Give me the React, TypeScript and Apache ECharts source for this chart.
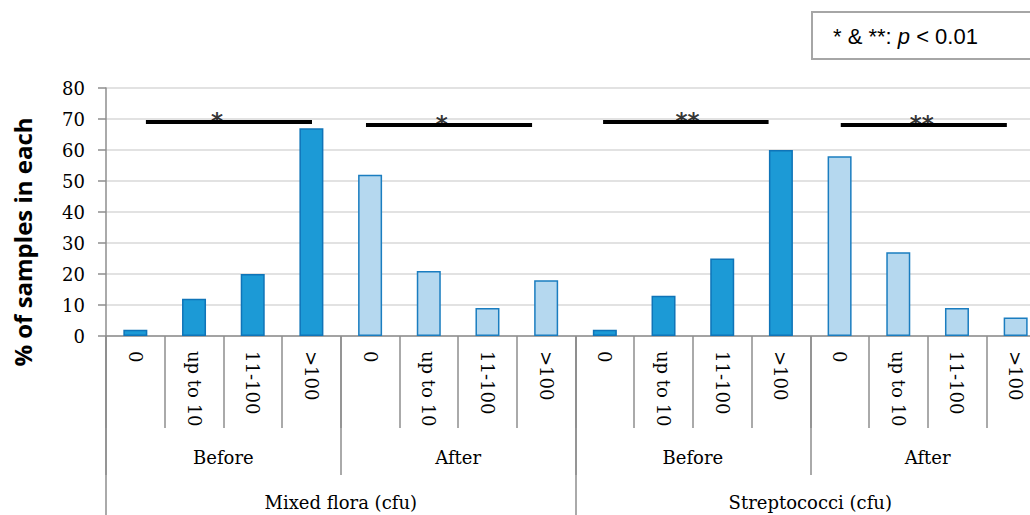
import React, { useEffect, useRef } from "react";
import * as echarts from "echarts";

// ---- data ----
const binLabels = ["0", "up to 10", "11-100", ">100"];
const phaseLabels = ["Before", "After", "Before", "After"];
const organismLabels = ["Mixed flora (cfu)", "Streptococci (cfu)"];

const mixedBefore = [2, 12, 20, 67];
const mixedAfter = [52, 21, 9, 18];
const strepBefore = [2, 13, 25, 60];
const strepAfter = [58, 27, 9, 6];

const yTicks = { min: 0, max: 80, interval: 10 };

// significance brackets (x in category units, 0..16)
const sigText = ["*", "*", "**", "**"];
const sigStart = [0.68, 4.43, 8.47, 12.52];
const sigEnd = [3.51, 7.26, 11.29, 15.35];
const sigLevel = [69, 68.1, 69, 68.1];
const sigTextX = [1.89, 5.72, 9.91, 13.9];

const yTitle = "% of samples in each";
const noteText = ["* & **: ", "p", " < 0.01"];

export default function App() {
  const ref = useRef<HTMLDivElement>(null);

  useEffect(() => {
    if (!ref.current) return;
    const chart = echarts.init(ref.current, undefined, { renderer: "svg" });

    const categories: string[] = [];
    for (let g = 0; g < 4; g++) binLabels.forEach((b) => categories.push(b));
    const empty = binLabels.map(() => null);
    const beforeData = [...mixedBefore, ...empty, ...strepBefore, ...empty];
    const afterData = [...empty, ...mixedAfter, ...empty, ...strepAfter];

    const serif = "DejaVu Serif";
    const axisColor = "#8e8e8e";

    const sigLineSeries = sigText.map((_, i) => ({
      type: "line",
      xAxisIndex: 3,
      yAxisIndex: 0,
      data: [
        [sigStart[i], sigLevel[i]],
        [sigEnd[i], sigLevel[i]],
      ],
      symbol: "none",
      silent: true,
      lineStyle: { color: "#000", width: 4 },
      z: 5,
    }));

    const sigLabelSeries = {
      type: "scatter",
      xAxisIndex: 3,
      yAxisIndex: 0,
      symbolSize: 1,
      silent: true,
      itemStyle: { color: "rgba(0,0,0,0)" },
      data: sigText.map((t, i) => ({ value: [sigTextX[i], sigLevel[i] + 0.3], name: t })),
      label: {
        show: true,
        position: "inside",
        formatter: "{b}",
        fontFamily: "DejaVu Sans",
        fontWeight: "bold",
        fontSize: 23,
        color: "#000",
      },
      z: 6,
    };

    chart.setOption({
      animation: false,
      backgroundColor: "#fff",
      grid: { left: 106, top: 88, width: 939, height: 248, containLabel: false },
      xAxis: [
        {
          type: "category",
          data: categories,
          position: "bottom",
          axisLine: { show: true, lineStyle: { color: axisColor, width: 1.5 } },
          axisTick: { show: true, interval: 0, length: 92, lineStyle: { color: axisColor, width: 1.5 } },
          axisLabel: {
            interval: 0,
            rotate: -90,
            margin: 15,
            fontFamily: serif,
            fontSize: 18,
            color: "#000",
          },
          splitLine: { show: false },
        },
        {
          type: "category",
          data: phaseLabels,
          position: "bottom",
          axisLine: { show: false },
          axisTick: { show: true, interval: 0, length: 139, lineStyle: { color: axisColor, width: 1.5 } },
          axisLabel: { interval: 0, margin: 112, fontFamily: serif, fontSize: 18, color: "#000" },
          splitLine: { show: false },
        },
        {
          type: "category",
          data: organismLabels,
          position: "bottom",
          axisLine: { show: false },
          axisTick: { show: true, interval: 0, length: 190, lineStyle: { color: axisColor, width: 1.5 } },
          axisLabel: { interval: 0, margin: 157, fontFamily: serif, fontSize: 18, color: "#000" },
          splitLine: { show: false },
        },
        {
          type: "value",
          min: 0,
          max: categories.length,
          show: false,
          position: "top",
          splitLine: { show: false },
        },
      ],
      yAxis: {
        type: "value",
        min: yTicks.min,
        max: yTicks.max,
        interval: yTicks.interval,
        axisLine: { show: true, lineStyle: { color: axisColor, width: 1.5 } },
        axisTick: { show: true, length: 8, lineStyle: { color: axisColor, width: 1.5 } },
        axisLabel: { margin: 21, fontFamily: serif, fontSize: 18, color: "#000" },
        splitLine: { show: true, lineStyle: { color: "#d9d9d9", width: 1.5 } },
      },
      series: [
        {
          type: "bar",
          name: "Before",
          xAxisIndex: 0,
          data: beforeData,
          barWidth: 24,
          barGap: "-100%",
          itemStyle: { color: "#1c9ad6", borderColor: "#0f74b8", borderWidth: 1.5 },
        },
        {
          type: "bar",
          name: "After",
          xAxisIndex: 0,
          data: afterData,
          barWidth: 24,
          barGap: "-100%",
          itemStyle: { color: "#b5d8ef", borderColor: "#1a7dc0", borderWidth: 1.5 },
        },
        ...sigLineSeries,
        sigLabelSeries,
      ],
      graphic: [
        {
          type: "text",
          x: 22,
          y: 242,
          rotation: Math.PI / 2,
          style: {
            text: yTitle,
            font: "bold 24px 'Open Sans'",
            fill: "#000",
            align: "center",
            verticalAlign: "middle",
          },
        },
        {
          type: "rect",
          shape: { x: 812, y: 12, width: 240, height: 47 },
          style: { fill: "#fff", stroke: "#a6a6a6", lineWidth: 2 },
        },
        {
          type: "text",
          x: 833,
          y: 36,
          style: {
            text: `{a|${noteText[0]}}{b|${noteText[1]}}{a|${noteText[2]}}`,
            verticalAlign: "middle",
            rich: {
              a: { fontFamily: "Liberation Sans", fontSize: 22, fill: "#000" },
              b: { fontFamily: "Liberation Sans", fontSize: 22, fontStyle: "italic", fill: "#000" },
            },
          },
        },
      ],
    });

    return () => chart.dispose();
  }, []);

  return (
    <div
      style={{
        position: "absolute",
        left: 0,
        top: 0,
        width: 1030,
        height: 515,
        overflow: "hidden",
        background: "#fff",
      }}
    >
      <div ref={ref} style={{ width: 1060, height: 515 }} />
    </div>
  );
}
